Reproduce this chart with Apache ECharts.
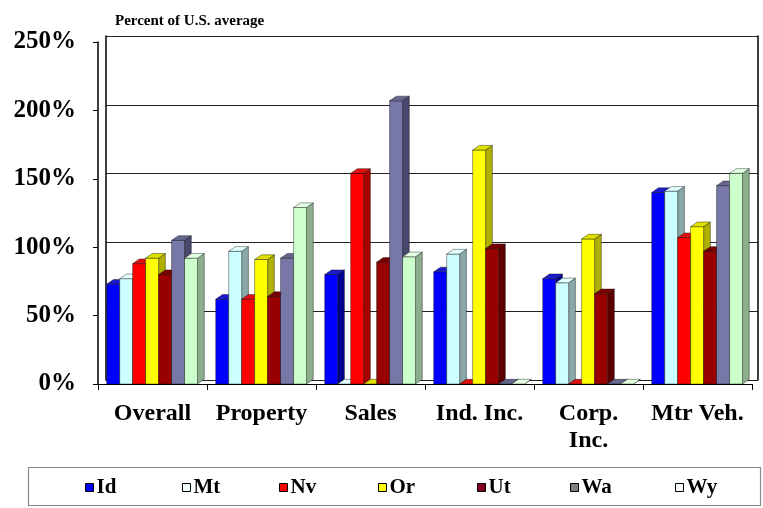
<!DOCTYPE html>
<html><head><meta charset="utf-8">
<script src="https://cdn.jsdelivr.net/npm/echarts@6/dist/echarts.min.js"></script>
<style>html,body{margin:0;padding:0;background:#fff}#c{width:763px;height:508px}</style>
</head><body><div id="c"></div>
<script>
const categories = ['Overall', 'Property', 'Sales', 'Ind. Inc.', 'Corp.\nInc.', 'Mtr Veh.'];
const states = ['Id', 'Mt', 'Nv', 'Or', 'Ut', 'Wa', 'Wy'];
const Id = [73, 62, 80, 82, 77, 140];
const Mt = [77, 97, 0, 95, 74, 141];
const Nv = [88, 62, 154, 0, 0, 107];
const Or = [92, 91, 0, 171, 106, 115];
const Ut = [80, 64, 89, 99, 66, 97];
const Wa = [105, 92, 207, 0, 0, 145];
const Wy = [92, 129, 93, 0, 0, 154];
const yTicks = [0, 50, 100, 150, 200, 250];

const seriesValues = [Id, Mt, Nv, Or, Ut, Wa, Wy];
const colors = [
  {front:'#0000ff', side:'#00008c', top:'#1a1acc', legend:'#0000ff'},
  {front:'#ccffff', side:'#8aa8a8', top:'#e2ffff', legend:'#f4ffff'},
  {front:'#ff0000', side:'#a80000', top:'#e01010', legend:'#ff0000'},
  {front:'#ffff00', side:'#b0b000', top:'#e0e000', legend:'#ffff00'},
  {front:'#990000', side:'#5c0000', top:'#7a0000', legend:'#800020'},
  {front:'#7878a8', side:'#48486e', top:'#66668e', legend:'#808080'},
  {front:'#ccffcc', side:'#8cae8c', top:'#e2ffe2', legend:'#f4fff4'}
];
const legendLeft = [85, 182, 279, 378, 477, 570, 675];
const serif = "'Liberation Serif','Times New Roman',serif";

function makeRender(si) {
  return function (params, api) {
    const cat = api.value(0), val = api.value(1);
    const base = api.coord([cat, 0]);
    const top = api.coord([cat, val]);
    const band = api.size([1, 0])[0];
    const w = band * 0.119;
    const dx = w * 0.52, dy = -w * 0.36;
    const x0 = base[0] - (7 * w + dx) / 2 + si * w + 3;
    const x1 = x0 + w;
    const yb = base[1], yt = top[1];
    const c = colors[si];
    const stroke = {stroke: 'rgba(0,0,0,0.65)', lineWidth: 0.6};
    return {
      type: 'group',
      children: [
        {type: 'polygon', shape: {points: [[x1, yb], [x1 + dx, yb + dy], [x1 + dx, yt + dy], [x1, yt]]},
         style: Object.assign({fill: c.side}, stroke)},
        {type: 'rect', shape: {x: x0, y: yt, width: w, height: yb - yt},
         style: Object.assign({fill: c.front}, stroke)},
        {type: 'polygon', shape: {points: [[x0, yt], [x0 + dx, yt + dy], [x1 + dx, yt + dy], [x1, yt]]},
         style: Object.assign({fill: c.top}, stroke)}
      ]
    };
  };
}

const chart = echarts.init(document.getElementById('c'), null, {renderer: 'canvas'});
const series = states.map((s, si) => ({
  name: s,
  type: 'custom',
  xAxisIndex: 0,
  yAxisIndex: 0,
  renderItem: makeRender(si),
  itemStyle: {color: colors[si].legend},
  encode: {x: 0, y: 1},
  data: seriesValues[si].map((v, ci) => [ci, v]),
  animation: false
}));

const legends = states.map((s, si) => ({
  data: [{name: s, itemStyle: {color: colors[si].legend, borderColor: '#000', borderWidth: 1}}],
  left: legendLeft[si], top: 477, padding: 0,
  itemWidth: 8, itemHeight: 8, icon: 'rect',
  textStyle: {fontFamily: serif, fontWeight: 'bold', fontSize: 21, color: '#000', padding: [0, 0, 0, -2]}
}));

chart.setOption({
  animation: false,
  title: {
    text: 'Percent of U.S. average', left: 110, top: 9,
    textStyle: {fontFamily: serif, fontWeight: 'bold', fontSize: 15, color: '#000'}
  },
  graphic: [{
    type: 'rect', silent: true,
    shape: {x: 28.5, y: 467.5, width: 732, height: 38},
    style: {fill: 'none', stroke: '#8a8a8a', lineWidth: 1.2}
  }],
  legend: legends,
  grid: [
    {left: 98, right: 11, top: 42, bottom: 124},
    {left: 106, right: 5, top: 36, bottom: 128}
  ],
  xAxis: [
    {type: 'category', gridIndex: 0, data: categories, boundaryGap: true,
     axisLine: {lineStyle: {color: '#000', width: 1.2}},
     axisTick: {show: true, length: 6, lineStyle: {color: '#000'}},
     axisLabel: {interval: 0, margin: 16, fontFamily: serif, fontWeight: 'bold', fontSize: 24, color: '#000', lineHeight: 27}},
    {type: 'category', gridIndex: 1, data: categories, show: false}
  ],
  yAxis: [
    {type: 'value', gridIndex: 0, min: yTicks[0], max: yTicks[yTicks.length - 1], interval: 50,
     axisLine: {show: true, lineStyle: {color: '#000', width: 1.5}},
     axisTick: {show: true, length: 5, lineStyle: {color: '#000'}},
     splitLine: {show: false},
     axisLabel: {formatter: '{value}%', margin: 22, fontFamily: serif, fontWeight: 'bold', fontSize: 25, color: '#000'}},
    {type: 'value', gridIndex: 1, min: 0, max: 250, interval: 50, position: 'left',
     axisLine: {show: true, lineStyle: {color: '#000', width: 1.5}},
     axisTick: {show: false}, axisLabel: {show: false},
     splitLine: {show: true, lineStyle: {color: '#222', width: 1}}},
    {type: 'value', gridIndex: 1, min: 0, max: 250, interval: 50, position: 'right',
     axisLine: {show: true, lineStyle: {color: '#000', width: 1.5}},
     axisTick: {show: false}, axisLabel: {show: false}, splitLine: {show: false}}
  ],
  series: series
});
</script>
</body></html>
